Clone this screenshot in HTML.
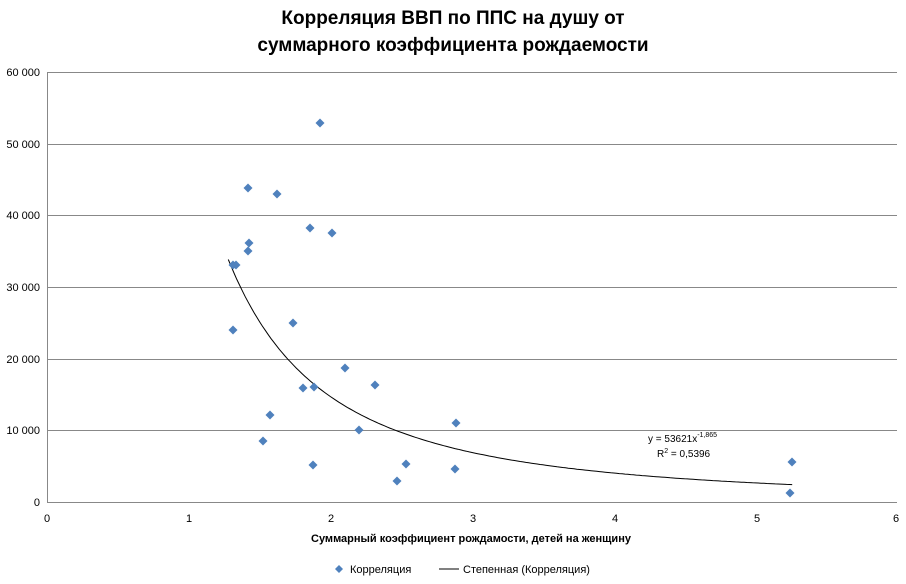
<!DOCTYPE html>
<html><head><meta charset="utf-8"><style>
body{margin:0;background:#fff;}
svg{display:block;font-family:"Liberation Sans",sans-serif;}
</style></head><body>
<svg id="s" width="906" height="584" viewBox="0 0 906 584">
<rect width="906" height="584" fill="#fff"/>
<text x="453" y="24" text-anchor="middle" font-size="19" font-weight="bold">Корреляция ВВП по ППС на душу от</text>
<text x="453" y="51" text-anchor="middle" font-size="19" font-weight="bold">суммарного коэффициента рождаемости</text>
<g stroke="#888" stroke-width="1">
<line x1="47" y1="72.5" x2="897" y2="72.5"/>
<line x1="47" y1="144.5" x2="897" y2="144.5"/>
<line x1="47" y1="215.5" x2="897" y2="215.5"/>
<line x1="47" y1="287.5" x2="897" y2="287.5"/>
<line x1="47" y1="359.5" x2="897" y2="359.5"/>
<line x1="47" y1="430.5" x2="897" y2="430.5"/>
<line x1="47" y1="502.5" x2="897" y2="502.5"/>
<line x1="47.5" y1="72" x2="47.5" y2="502"/>
</g>
<g font-size="11" text-anchor="end" fill="#000">
<text x="40" y="76">60 000</text><text x="40" y="148">50 000</text><text x="40" y="219">40 000</text>
<text x="40" y="291">30 000</text><text x="40" y="363">20 000</text><text x="40" y="434">10 000</text><text x="40" y="506">0</text>
</g>
<g font-size="11" text-anchor="middle">
<text x="47" y="522">0</text><text x="189" y="522">1</text><text x="331" y="522">2</text><text x="473" y="522">3</text><text x="615" y="522">4</text><text x="757" y="522">5</text><text x="896" y="522">6</text>
</g>
<text x="471" y="542" text-anchor="middle" font-size="11" font-weight="bold">Суммарный коэффициент рождамости, детей на женщину</text>
<path id="c" fill="none" stroke="#000" stroke-width="1"/>
<g id="p" fill="#4f81bd"></g>
<text x="648" y="442" font-size="10">y = 53621x<tspan font-size="7" dy="-5">-1,865</tspan></text>
<text x="657" y="457" font-size="10">R<tspan font-size="7" dy="-4">2</tspan><tspan dy="4"> = 0,5396</tspan></text>
<path d="M339 565 l4 4 -4 4 -4 -4z" fill="#4f81bd"/>
<text x="350" y="573" font-size="11">Корреляция</text>
<line x1="439" y1="569" x2="459" y2="569" stroke="#000"/>
<text x="463" y="573" font-size="11">Степенная (Корреляция)</text>
</svg>
<script>
var pts=[[233,265],[236,265],[248,188],[249,243],[248,251],[277,194],[320,123],[310,228],[332,233],[233,330],[293,323],[345,368],[303,388],[314,387],[375,385],[270,415],[263,441],[359,430],[313,465],[456,423],[406,464],[397,481],[455,469],[792,462],[790,493]];
var g=document.getElementById('p'),h='';
pts.forEach(function(q){h+='<path d="M'+q[0]+' '+(q[1]-4.5)+' l4.5 4.5 -4.5 4.5 -4.5 -4.5z"/>';});
g.innerHTML=h;
var d='';
for(var x=1.28;x<=5.26;x+=0.02){var y=53621*Math.pow(x,-1.865);var px=47+x*141.67,py=502-y*430/60000;d+=(d?'L':'M')+px.toFixed(1)+' '+py.toFixed(1);}
document.getElementById('c').setAttribute('d',d);
</script>
</body></html>
